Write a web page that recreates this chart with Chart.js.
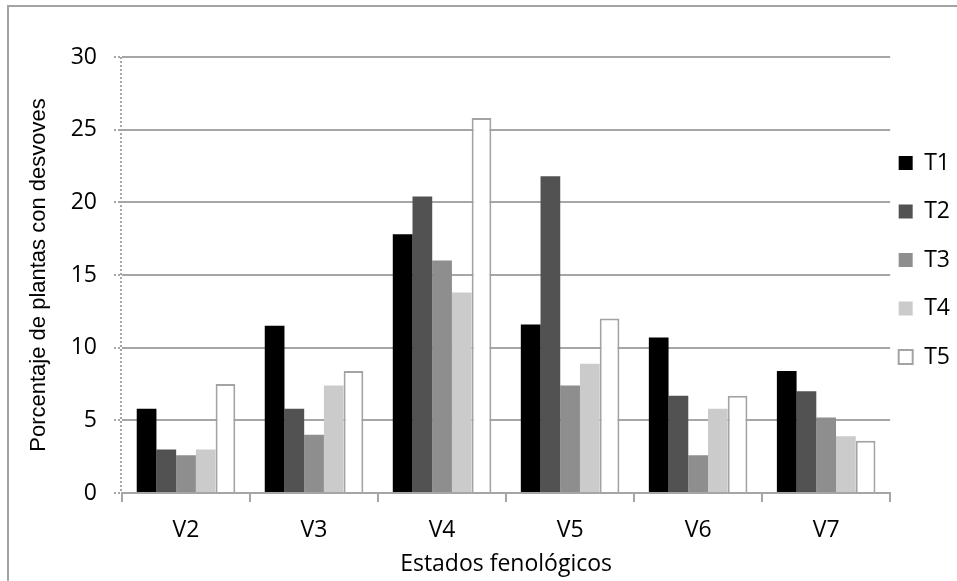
<!DOCTYPE html>
<html>
<head>
<meta charset="utf-8">
<script src="https://cdn.jsdelivr.net/npm/chart.js@4.4.1/dist/chart.umd.min.js"></script>
<style>
  html, body { margin: 0; padding: 0; background: #fff; overflow: hidden; }
  #wrap { position: relative; width: 957px; height: 581px; }
  #frame { position: absolute; left: 7px; top: 5px; width: 960px; height: 600px; border: 2px solid #a3a3a3; box-sizing: border-box; }
  canvas { position: absolute; left: 0; top: 0; }
</style>
</head>
<body>
<div id="wrap">
  <div id="frame"></div>
  <canvas id="chart" width="957" height="581"></canvas>
</div>
<script>
// growth stages on the x axis
const stages = ["V2", "V3", "V4", "V5", "V6", "V7"];

// % of plants with suckers, per treatment
const t1 = [5.8, 11.5, 17.8, 11.6, 10.7, 8.4];
const t2 = [3.0, 5.8, 20.4, 21.8, 6.7, 7.0];
const t3 = [2.6, 4.0, 16.0, 7.4, 2.6, 5.2];
const t4 = [3.0, 7.4, 13.8, 8.9, 5.8, 3.9];
const t5 = [7.5, 8.4, 25.8, 12.0, 6.7, 3.6];

const yTicks = [0, 5, 10, 15, 20, 25, 30];

const gridGray = "#a6a6a6";
const labelFont = { family: "'Open Sans'", size: 23 };

/* legend sits a bit higher and further left than chart.js puts it */
const nudgeLegend = {
  id: "nudgeLegend",
  afterLayout(chart) {
    chart.legend.top -= 15;
    chart.legend.bottom -= 15;
    chart.legend.left -= 17;
    chart.legend.right -= 17;
  },
};

/* the value axis line is dotted in the original, chart.js only draws it solid */
const dottedAxis = {
  id: "dottedAxis",
  afterDraw(chart) {
    const y = chart.scales.y;
    const ctx = chart.ctx;
    ctx.save();
    ctx.strokeStyle = gridGray;
    ctx.lineWidth = 2;
    ctx.setLineDash([2, 2]);
    ctx.beginPath();
    ctx.moveTo(y.right - 1, y.top);
    ctx.lineTo(y.right - 1, y.bottom);
    ctx.stroke();
    ctx.restore();
  },
};

const config = {
  type: "bar",
  data: {
    labels: stages,
    datasets: [
      { label: "T1", data: t1, backgroundColor: "#000000", borderWidth: 0 },
      { label: "T2", data: t2, backgroundColor: "#525252", borderWidth: 0 },
      { label: "T3", data: t3, backgroundColor: "#8e8e8e", borderWidth: 0 },
      { label: "T4", data: t4, backgroundColor: "#cbcbcb", borderWidth: 0 },
      { label: "T5", data: t5, backgroundColor: "#ffffff", borderColor: "#a3a3a3", borderWidth: 2 },
    ],
  },
  options: {
    responsive: false,
    animation: false,
    layout: { padding: { left: 0, top: 57, right: -20, bottom: 0 } },
    datasets: { bar: { categoryPercentage: 0.77, barPercentage: 1.0 } },
    plugins: {
      tooltip: { enabled: false },
      legend: {
        position: "right",
        fullSize: false,
        align: "center",
        labels: {
          boxWidth: 14,
          boxHeight: 14,
          padding: 25.5,
          color: "#000",
          font: labelFont,
        },
      },
    },
    scales: {
      x: {
        afterFit: (scale) => { scale.height = 88; },
        grid: {
          display: true,
          drawOnChartArea: false,
          drawTicks: true,
          tickLength: 9,
          color: gridGray,
          lineWidth: 2,
          offset: true,
        },
        border: { display: true, color: gridGray, width: 2 },
        ticks: {
          color: "#000",
          padding: 15,
          font: labelFont,
        },
        title: {
          display: true,
          text: "Estados fenológicos",
          color: "#000",
          padding: { top: 0, bottom: 3 },
          font: labelFont,
        },
      },
      y: {
        min: 0,
        max: 30,
        afterFit: (scale) => { scale.width = 122; },
        afterBuildTicks: (scale) => { scale.ticks = yTicks.map((v) => ({ value: v })); },
        grid: {
          color: gridGray,
          lineWidth: 2,
          drawTicks: true,
          tickLength: 8,
          tickBorderDash: [2, 2],
        },
        border: { display: false },
        ticks: {
          color: "#000",
          padding: 17,
          font: labelFont,
        },
        title: {
          display: true,
          text: "Porcentaje de plantas con desvoves",
          color: "#000",
          padding: { top: 26, bottom: 0 },
          font: { family: "'Liberation Sans'", size: 22 },
        },
      },
    },
  },
  plugins: [nudgeLegend, dottedAxis],
};

var grapharea = document.getElementById("chart").getContext("2d");
new Chart(grapharea, config);
</script>
</body>
</html>
